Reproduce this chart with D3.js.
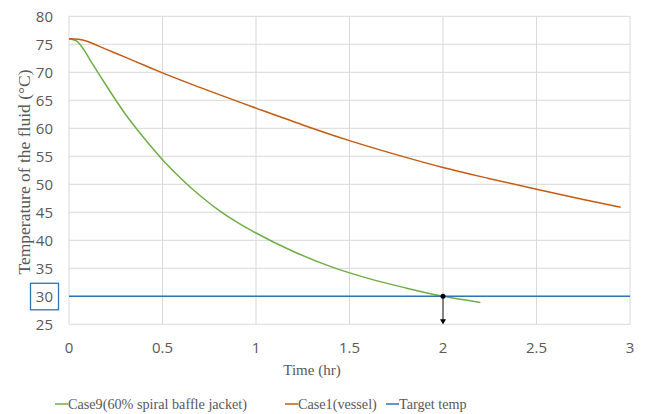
<!DOCTYPE html>
<html>
<head>
<meta charset="utf-8">
<script src="https://cdn.jsdelivr.net/npm/d3@7"></script>
<style>
  body { margin: 0; background: #fff; }
  svg { display: block; }
</style>
</head>
<body>
<svg id="chart"></svg>
<script>
// data
const greenTime = [0, 0.04, 0.08, 0.12, 0.2, 0.3, 0.4, 0.5, 0.6, 0.7, 0.8, 0.9, 1.0, 1.2, 1.4, 1.6, 1.8, 2.0, 2.2];
const greenTemp = [76, 75.6, 74.0, 71.8, 67.6, 62.6, 58.3, 54.4, 51.0, 48.0, 45.4, 43.2, 41.3, 38.0, 35.3, 33.2, 31.5, 30.0, 28.9];
const redTime = [0, 0.05, 0.1, 0.15, 0.2, 0.3, 0.4, 0.5, 0.7, 1.0, 1.25, 1.5, 1.75, 2.0, 2.25, 2.5, 2.75, 2.95];
const redTemp = [76, 75.9, 75.5, 74.8, 74.1, 72.7, 71.3, 69.9, 67.3, 63.6, 60.6, 57.8, 55.3, 53.0, 51.0, 49.1, 47.3, 45.9];
const targetTime = [0, 3];
const targetTemp = [30, 30];
const xTicks = [0, 0.5, 1, 1.5, 2, 2.5, 3];
const yTicks = [25, 30, 35, 40, 45, 50, 55, 60, 65, 70, 75, 80];
const seriesNames = ["Case9(60% spiral baffle jacket)", "Case1(vessel)", "Target temp"];
const markTime = 2.0, markTemp = 30;

const width = 647, height = 414;
const colors = ["#70AD47", "#C55A11", "#2E75B6"];
const textGray = "#595959";

const svg = d3.select("#chart").attr("width", width).attr("height", height);

const x = d3.scaleLinear().domain([0, 3]).range([69, 630]);
const y = d3.scaleLinear().domain([25, 80]).range([324.3, 16.3]);

// gridlines
svg.append("g").selectAll("line").data(yTicks).join("line")
  .attr("x1", x(0)).attr("x2", x(3))
  .attr("y1", d => y(d)).attr("y2", d => y(d))
  .attr("stroke", "#D9D9D9").attr("stroke-width", 1);
svg.append("g").selectAll("line").data(xTicks).join("line")
  .attr("x1", d => x(d)).attr("x2", d => x(d))
  .attr("y1", y(25)).attr("y2", y(80))
  .attr("stroke", "#D9D9D9").attr("stroke-width", 1);

// tick labels
svg.append("g").selectAll("text").data(yTicks).join("text")
  .attr("x", 53).attr("y", d => y(d)).attr("dy", "0.36em")
  .attr("text-anchor", "end")
  .attr("font-family", "'Open Sans', sans-serif").attr("font-size", 15)
  .attr("fill", textGray).text(d => d);
svg.append("g").selectAll("text").data(xTicks).join("text")
  .attr("x", d => x(d)).attr("y", 353)
  .attr("text-anchor", "middle")
  .attr("font-family", "'Open Sans', sans-serif").attr("font-size", 15)
  .attr("fill", textGray).text(d => d);

// box around 30
svg.append("rect")
  .attr("x", 30.5).attr("y", y(30) - 13).attr("width", 28).attr("height", 26.5)
  .attr("fill", "none").attr("stroke", "#2E75B6").attr("stroke-width", 1.3);

// axis titles
svg.append("text")
  .attr("x", 312).attr("y", 375)
  .attr("text-anchor", "middle")
  .attr("font-family", "'Liberation Serif', 'Times New Roman', serif").attr("font-size", 15)
  .attr("fill", textGray).text("Time (hr)");
svg.append("text")
  .attr("transform", "translate(30,172) rotate(-90)")
  .attr("text-anchor", "middle")
  .attr("font-family", "'Liberation Serif', 'Times New Roman', serif").attr("font-size", 17.5)
  .attr("fill", textGray).text("Temperature of the fluid (\u00B0C)");

// series lines
const line = d3.line().x(d => x(d[0])).y(d => y(d[1])).curve(d3.curveMonotoneX);
const series = [
  d3.zip(greenTime, greenTemp),
  d3.zip(redTime, redTemp),
  d3.zip(targetTime, targetTemp)
];
svg.append("g").selectAll("path").data(series).join("path")
  .attr("d", line)
  .attr("fill", "none")
  .attr("stroke", (d, i) => colors[i])
  .attr("stroke-width", (d, i) => i === 2 ? 1.6 : 1.5);

// marker and arrow at the crossing
svg.append("line")
  .attr("x1", x(markTime)).attr("x2", x(markTime))
  .attr("y1", y(markTemp)).attr("y2", y(25) - 1)
  .attr("stroke", "#404040").attr("stroke-width", 1.2);
svg.append("path")
  .attr("d", `M${x(markTime) - 3},${y(25) - 5} L${x(markTime) + 3},${y(25) - 5} L${x(markTime)},${y(25)} Z`)
  .attr("fill", "#000");
svg.append("circle")
  .attr("cx", x(markTime)).attr("cy", y(markTemp)).attr("r", 2.5).attr("fill", "#000");

// legend
const legendX = [55, 285, 386];
const legend = svg.append("g").selectAll("g").data(seriesNames).join("g")
  .attr("transform", (d, i) => `translate(${legendX[i]},404)`);
legend.append("line")
  .attr("x1", 0).attr("x2", 13).attr("y1", 0).attr("y2", 0)
  .attr("stroke", (d, i) => colors[i]).attr("stroke-width", 1.5);
legend.append("text")
  .attr("x", 13).attr("y", 5)
  .attr("font-family", "'Liberation Serif', 'Times New Roman', serif").attr("font-size", 14.2)
  .attr("fill", textGray).text(d => d);
</script>
</body>
</html>
